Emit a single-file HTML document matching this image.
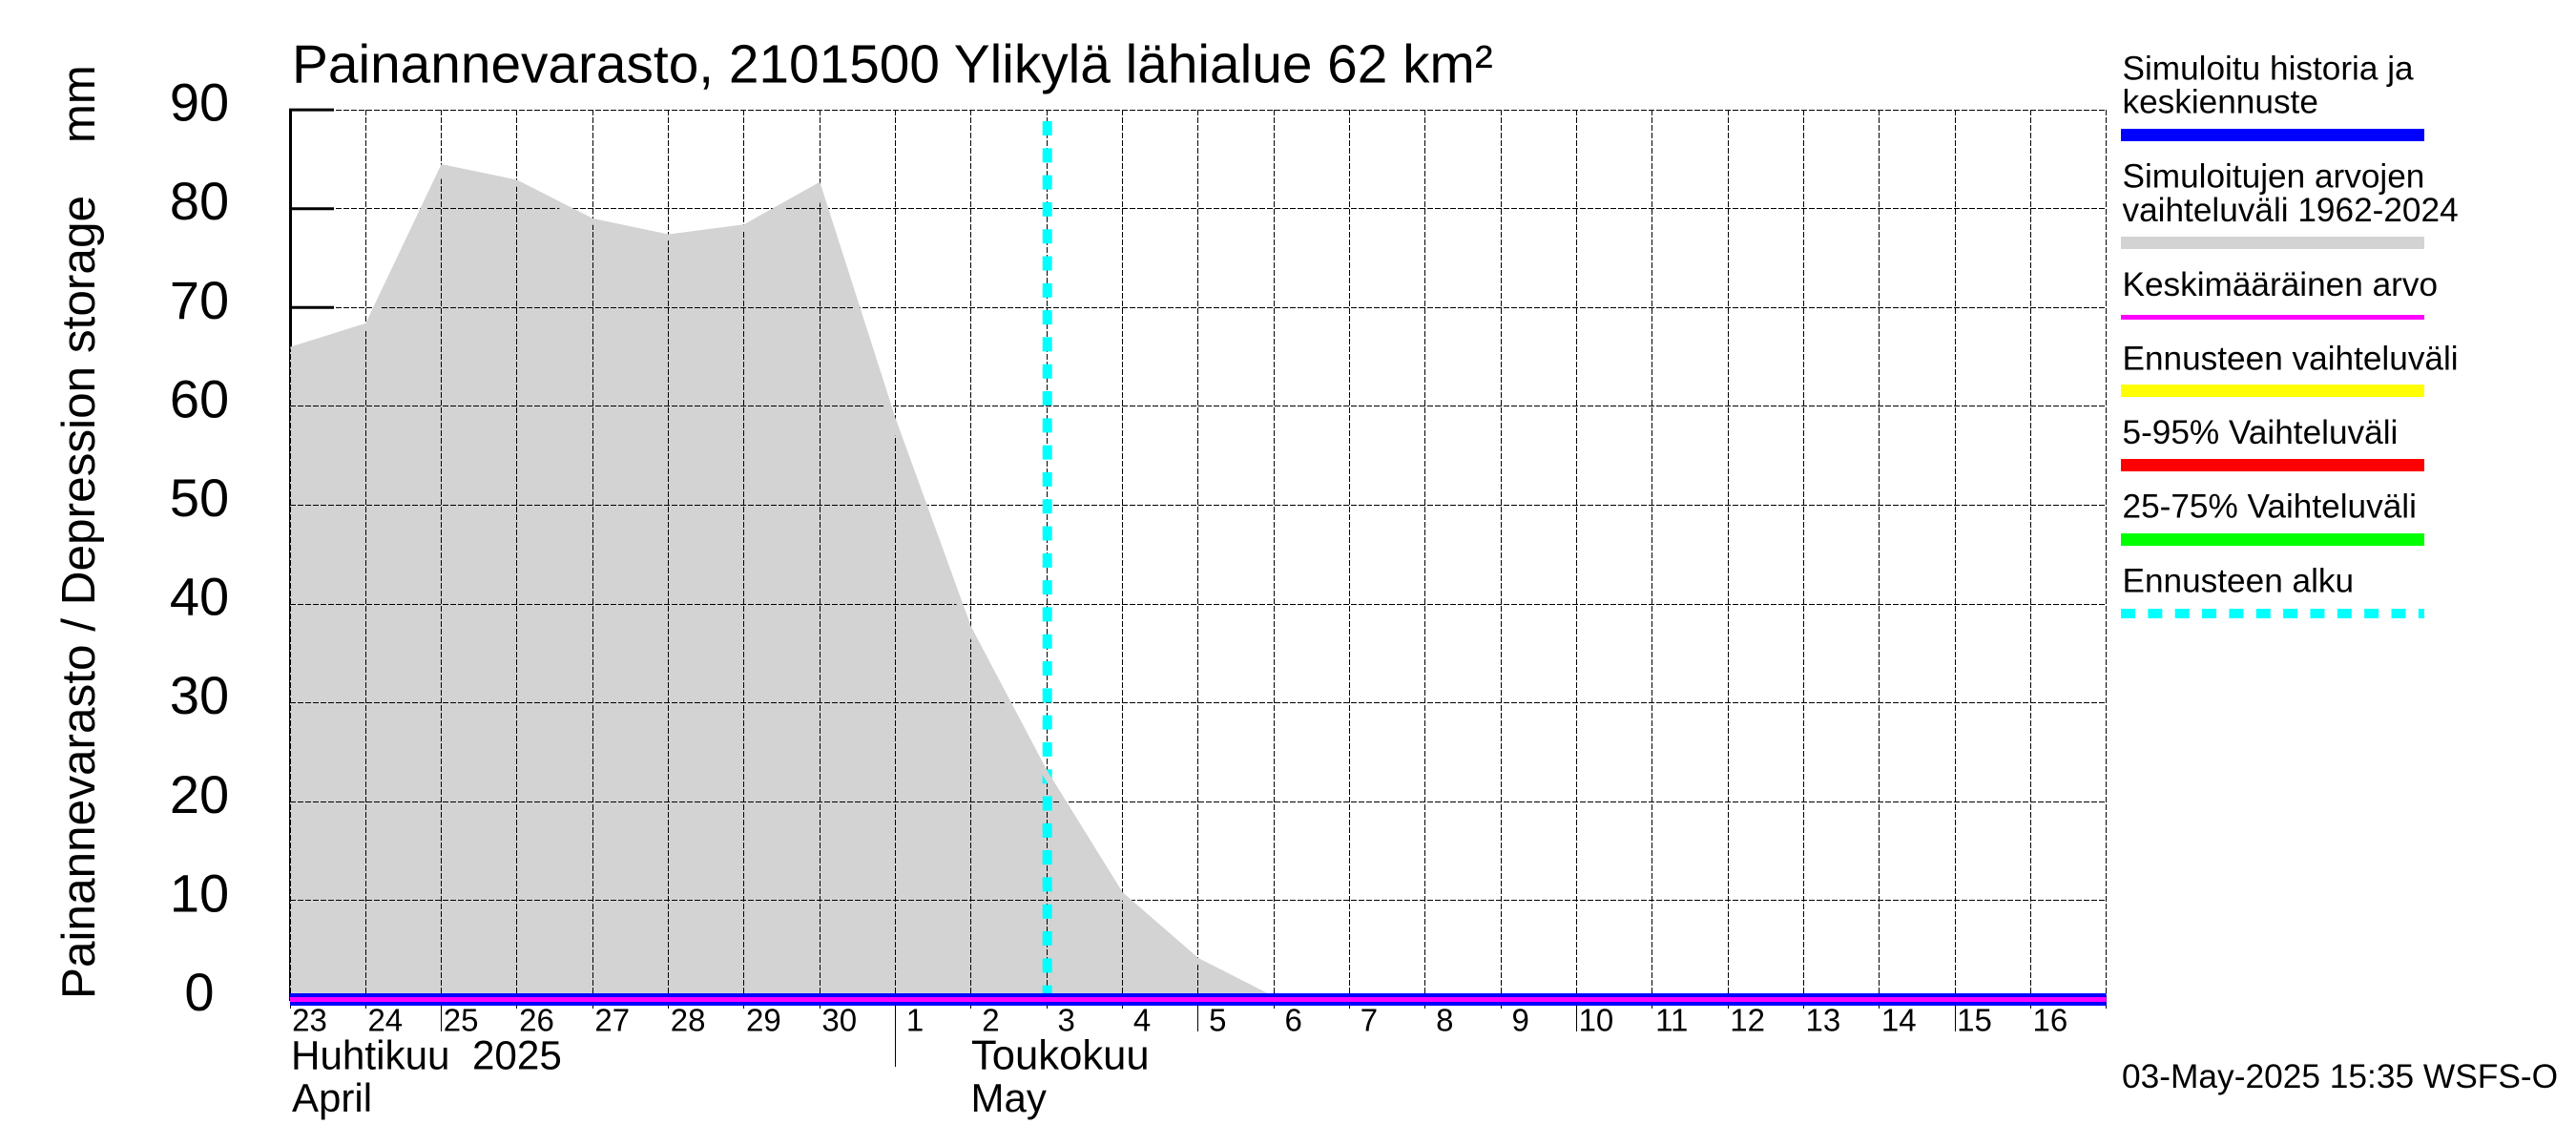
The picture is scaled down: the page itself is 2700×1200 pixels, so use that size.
<!DOCTYPE html>
<html lang="fi">
<head>
<meta charset="utf-8">
<title>Painannevarasto</title>
<style>
html,body{margin:0;padding:0;background:#fff;}
body{width:2700px;height:1200px;overflow:hidden;}
svg{display:block;font-family:"Liberation Sans",Arial,sans-serif;fill:#000;}
</style>
</head>
<body>
<svg id="chart" xmlns="http://www.w3.org/2000/svg" width="2700" height="1200" viewBox="0 0 2700 1200">
  <rect x="0" y="0" width="2700" height="1200" fill="#fff"/>
  <text x="306" y="86.7" font-size="56.8">Painannevarasto, 2101500 Ylikylä lähialue 62 km²</text>
  <text transform="translate(99 1047) rotate(-90)" font-size="49.5">Painannevarasto / Depression storage</text>
  <text transform="translate(99 150) rotate(-90)" font-size="49">mm</text>
  <g id="plot"></g>
  <text x="305" y="1120.7" font-size="42.2" xml:space="preserve">Huhtikuu  2025</text>
  <text x="306" y="1165" font-size="42">April</text>
  <text x="1018" y="1120.7" font-size="43.6">Toukokuu</text>
  <text x="1017.5" y="1165" font-size="42">May</text>
  <g font-size="35.2">
    <text x="2224.5" y="83.3">Simuloitu historia ja</text>
    <text x="2224.5" y="118.3">keskiennuste</text>
    <rect x="2223" y="135" width="318" height="13" fill="#0000ff"/>
    <text x="2224.5" y="196.7">Simuloitujen arvojen</text>
    <text x="2224.5" y="232">vaihteluväli 1962-2024</text>
    <rect x="2223" y="248" width="318" height="13" fill="#d3d3d3"/>
    <text x="2224.5" y="310">Keskimääräinen arvo</text>
    <rect x="2223" y="330" width="318" height="5" fill="#ff00ff"/>
    <text x="2224.5" y="387.3">Ennusteen vaihteluväli</text>
    <rect x="2223" y="403" width="318" height="13" fill="#ffff00"/>
    <text x="2224.5" y="465">5-95% Vaihteluväli</text>
    <rect x="2223" y="481" width="318" height="13" fill="#ff0000"/>
    <text x="2224.5" y="542.7">25-75% Vaihteluväli</text>
    <rect x="2223" y="559" width="318" height="13" fill="#00ff00"/>
    <text x="2224.5" y="620.7">Ennusteen alku</text>
    <line x1="2223" y1="643" x2="2541" y2="643" stroke="#00ffff" stroke-width="10" stroke-dasharray="15 13.35"/>
  </g>
  <text x="2224" y="1140" font-size="35.3">03-May-2025 15:35 WSFS-O</text>
</svg>
<script>
const dayLabels = [23,24,25,26,27,28,29,30,1,2,3,4,5,6,7,8,9,10,11,12,13,14,15,16];
const yTickLabels = [0,10,20,30,40,50,60,70,80,90];
const rangeUpper = [66,68.4,84.5,82.9,79,77.4,78.4,82.7,58.8,37.7,23.2,10.85,4.2,0.3,0,0,0,0,0,0,0,0,0,0,0];
const rangeLower = [0,0,0,0,0,0,0,0,0,0,0,0,0,0,0,0,0,0,0,0,0,0,0,0,0];
const simulated = [0,0,0,0,0,0,0,0,0,0,0,0,0,0,0,0,0,0,0,0,0,0,0,0,0];
const meanValue = [0,0,0,0,0,0,0,0,0,0,0,0,0,0,0,0,0,0,0,0,0,0,0,0,0];
const forecastStartDay = 10;
const forecastLineTop = 88.85;
const fiveDayMarks = [2,12,17,22];
const monthStartMarks = [8];

const NS = 'http://www.w3.org/2000/svg';
const plot = document.getElementById('plot');
const xPos = d => 304 + 79.32 * d;
const yPos = v => 1047.5 - 10.36 * v;
const crisp = p => Math.floor(p) + 0.5;
const yMax = 90;
const dayMax = simulated.length - 1;

function mk(tag, attrs) {
  const e = document.createElementNS(NS, tag);
  for (const k in attrs) e.setAttribute(k, attrs[k]);
  plot.appendChild(e);
  return e;
}
function linePts(vals) {
  return vals.map((v, i) => xPos(i) + ',' + yPos(v)).join(' ');
}

// thick left axis and y ticks (drawn first, the range area covers them)
const axisLine = mk('line', {x1: 304.5, y1: yPos(yMax) - 1, x2: 304.5, y2: yPos(0), stroke: '#000', 'stroke-width': 3});



yTickLabels.forEach(v => {
  const t = mk('line', {x1: 303, y1: yPos(v), x2: 350, y2: yPos(v), stroke: '#000', 'stroke-width': 3});
  
  
  const l = mk('text', {x: 209, y: yPos(v) + 11.5, 'font-size': 56, 'text-anchor': 'middle'});
  l.textContent = v;
  
  
});

// simulated range area
const areaPts = linePts(rangeUpper) + ' ' + rangeLower.map((v, i) => xPos(i) + ',' + yPos(v)).reverse().join(' ');
const area = mk('polygon', {points: areaPts, fill: '#d3d3d3'});



// grid
yTickLabels.forEach(v => {
  const g = mk('line', {x1: xPos(0), y1: crisp(yPos(v)), x2: xPos(dayMax), y2: crisp(yPos(v)), stroke: '#000', 'stroke-width': 1, 'stroke-dasharray': '6 2', 'shape-rendering': 'crispEdges'});
  
  
});
for (let d = 0; d <= dayMax; d++) {
  const g = mk('line', {x1: crisp(xPos(d)), y1: yPos(yMax), x2: crisp(xPos(d)), y2: yPos(0), stroke: '#000', 'stroke-width': 1, 'stroke-dasharray': '6 2', 'shape-rendering': 'crispEdges'});
  
  
}

// forecast start marker
const fc = mk('line', {x1: xPos(forecastStartDay) + 0.5, y1: yPos(forecastLineTop), x2: xPos(forecastStartDay) + 0.5, y2: yPos(0), stroke: '#00ffff', 'stroke-width': 10, 'stroke-dasharray': '15 13.3'});



// grey band along the inner top edge of the range, painted over grid and marker
const defs = mk('defs', {});
const clip = document.createElementNS(NS, 'clipPath');
clip.setAttribute('id', 'area-clip');
defs.appendChild(clip);
const clipPoly = document.createElementNS(NS, 'polygon');
clipPoly.setAttribute('points', areaPts);
clip.appendChild(clipPoly);
const edge = mk('polyline', {points: linePts(rangeUpper), fill: 'none', stroke: '#d3d3d3', 'stroke-width': 13, 'clip-path': 'url(#area-clip)'});



// x ticks
for (let d = 0; d <= dayMax; d++) {
  let bottom = 1057;
  if (fiveDayMarks.includes(d)) bottom = 1081;
  if (monthStartMarks.includes(d)) bottom = 1118;
  const t = mk('line', {x1: crisp(xPos(d)), y1: yPos(0), x2: crisp(xPos(d)), y2: bottom, stroke: '#000', 'stroke-width': 1, 'shape-rendering': 'crispEdges'});
  
  
}
dayLabels.forEach((lab, d) => {
  const l = mk('text', {x: xPos(d) + 20.5, y: 1080.7, 'font-size': 33, 'text-anchor': 'middle'});
  l.textContent = lab;
  
  
});

// simulated history and mean lines
const simLine = mk('polyline', {points: linePts(simulated), fill: 'none', stroke: '#0000ff', 'stroke-width': 13});


const meanLine = mk('polyline', {points: linePts(meanValue), fill: 'none', stroke: '#ff00ff', 'stroke-width': 5});


</script>
</body>
</html>
